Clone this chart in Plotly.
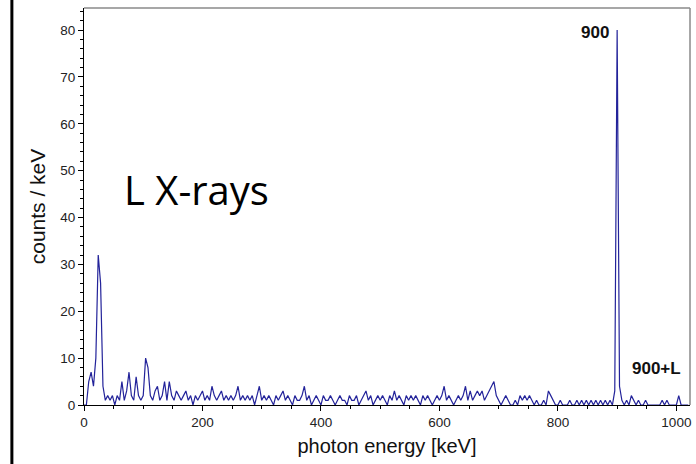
import plotly.graph_objects as go

# Spectrum: 4 keV bins starting at 0 keV
bin_width_kev = 4
counts = [
    0, 0, 5, 7, 4, 10, 32, 26, 4, 1,      # 0-36
    2, 1, 2, 0, 2, 1, 5, 1, 3, 7,         # 40-76
    2, 1, 6, 2, 1, 2, 10, 8, 2, 1,        # 80-116
    3, 4, 1, 2, 5, 1, 5, 2, 1, 3,         # 120-156
    2, 1, 2, 3, 1, 2, 0, 2, 1, 2,         # 160-196
    3, 1, 2, 1, 4, 2, 1, 2, 3, 1,         # 200-236
    2, 1, 2, 1, 2, 4, 1, 2, 1, 2,         # 240-276
    1, 2, 0, 2, 4, 1, 2, 1, 2, 1,         # 280-316
    0, 2, 1, 2, 3, 1, 2, 1, 0, 2,         # 320-356
    1, 1, 2, 4, 1, 2, 0, 1, 2, 1,         # 360-396
    0, 2, 1, 1, 2, 1, 0, 1, 2, 1,         # 400-436
    1, 0, 2, 1, 1, 2, 0, 1, 2, 3,         # 440-476
    1, 2, 0, 1, 2, 1, 2, 1, 0, 2,         # 480-516
    1, 3, 1, 2, 1, 0, 2, 1, 2, 1,         # 520-556
    2, 1, 0, 2, 1, 2, 1, 0, 1, 2,         # 560-596
    1, 2, 4, 1, 2, 1, 0, 1, 2, 1,         # 600-636
    2, 4, 1, 3, 1, 2, 3, 2, 3, 1,         # 640-676
    2, 3, 4, 5, 2, 1, 0, 1, 2, 1,         # 680-716
    0, 0, 1, 0, 2, 1, 2, 1, 2, 1,         # 720-756
    0, 1, 0, 0, 1, 0, 3, 2, 1, 0,         # 760-796
    0, 1, 0, 0, 0, 1, 0, 0, 1, 0,         # 800-836
    1, 0, 1, 0, 1, 0, 1, 0, 1, 0,         # 840-876
    1, 0, 1, 0, 3, 80, 4, 1, 0, 1,        # 880-916
    0, 2, 1, 0, 1, 0, 0, 1, 0, 0,         # 920-956
    0, 0, 0, 0, 1, 0, 1, 0, 0, 0,         # 960-996
    0, 2, 0, 0, 0, 0,                     # 1000-1020
]
energies = [i * bin_width_kev for i in range(len(counts))]

x_ticks = [0, 200, 400, 600, 800, 1000]
y_ticks = [0, 10, 20, 30, 40, 50, 60, 70, 80]

fig = go.Figure()
fig.add_trace(go.Scatter(
    x=energies, y=counts, mode="lines",
    line=dict(color="#23239a", width=1.2), showlegend=False,
))

sans = "Liberation Sans, Arial, sans-serif"
tick_font = dict(family=sans, size=13.5, color="#222")
fig.update_layout(
    width=696, height=464,
    margin=dict(l=84, r=6, t=8, b=59),
    paper_bgcolor="white", plot_bgcolor="white",
    xaxis=dict(
        range=[0, 1023], tickvals=x_ticks, ticks="outside", ticklen=5,
        tickcolor="black", showline=True, linecolor="black", linewidth=1,
        showgrid=False, zeroline=False, tickfont=tick_font,
        minor=dict(dtick=50, ticks="outside", ticklen=3, tickcolor="black"),
        title=dict(text="photon energy [keV]", standoff=9,
                   font=dict(family=sans, size=20, color="#111")),
    ),
    yaxis=dict(
        range=[0, 84.7], tickvals=y_ticks, ticks="outside", ticklen=5,
        tickcolor="black", showline=True, linecolor="black", linewidth=1,
        showgrid=False, zeroline=False, tickfont=tick_font,
        minor=dict(dtick=2, ticks="outside", ticklen=3, tickcolor="black"),
        title=dict(text="counts / keV", standoff=8,
                   font=dict(family=sans, size=21, color="#111")),
    ),
    shapes=[
        dict(type="line", xref="paper", yref="paper", x0=0, x1=1, y0=1, y1=1,
             line=dict(color="#8a8a8a", width=1.5)),
        dict(type="line", xref="paper", yref="paper", x0=1, x1=1, y0=0, y1=1,
             line=dict(color="#8a8a8a", width=1.5)),
        dict(type="line", xref="paper", yref="paper", x0=-0.119, x1=-0.119, y0=-0.2, y1=1.1,
             line=dict(color="black", width=3)),
    ],
    annotations=[
        dict(x=890, y=79.4, xref="x", yref="y", text="<b>900</b>", showarrow=False,
             xanchor="right", yanchor="middle",
             font=dict(family=sans, size=17, color="#111")),
        dict(x=1011, y=7.8, xref="x", yref="y", text="<b>900+L</b>", showarrow=False,
             xanchor="right", yanchor="middle",
             font=dict(family=sans, size=17, color="#111")),
        dict(x=64, y=46.0, xref="x", yref="y", text="L X-rays", showarrow=False,
             xanchor="left", yanchor="middle",
             font=dict(family="Open Sans, sans-serif", size=40, color="black")),
    ],
)

fig.write_html("out.html")
